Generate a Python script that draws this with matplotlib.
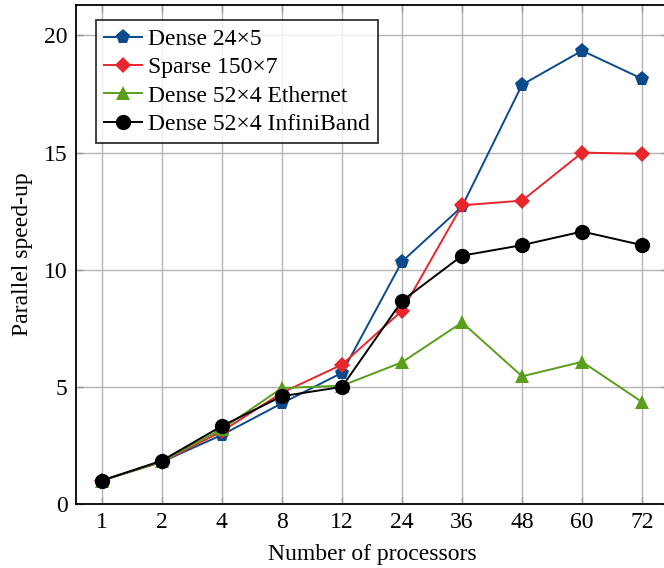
import matplotlib
matplotlib.use("Agg")
import matplotlib.pyplot as plt

processors = ["1", "2", "4", "8", "12", "24", "36", "48", "60", "72"]

dense_24x5 = [1.0, 1.8, 2.95, 4.3, 5.6, 10.35, 12.7, 17.9, 19.35, 18.15]
sparse_150x7 = [1.0, 1.8, 3.1, 4.75, 5.95, 8.25, 12.75, 12.95, 15.0, 14.95]
dense_52x4_eth = [1.0, 1.82, 3.2, 4.95, 5.05, 6.05, 7.75, 5.45, 6.07, 4.35]
dense_52x4_ib = [1.0, 1.85, 3.33, 4.6, 5.0, 8.67, 10.6, 11.05, 11.63, 11.05]

labels = ["Dense 24×5", "Sparse 150×7", "Dense 52×4 Ethernet", "Dense 52×4 InfiniBand"]

plt.rcParams["font.family"] = ["Liberation Serif", "DejaVu Serif"]

FS = 17
W, H = 664, 568
fig = plt.figure(figsize=(W / 100, H / 100), dpi=100)
left, right, top, bottom = 76, 668, 5, 504
ax = fig.add_axes([left / W, 1 - bottom / H, (right - left) / W, (bottom - top) / H])

x = list(range(len(processors)))
styles = [
    (dense_24x5, "#0b4a8b", "p", 11),
    (sparse_150x7, "#e8262b", "D", 8),
    (dense_52x4_eth, "#5a9e1c", "^", 10),
    (dense_52x4_ib, "#000000", "o", 11),
]
for (vals, color, marker, ms), lab in zip(styles, labels):
    ax.plot(x, vals, color=color, marker=marker, markersize=ms, linewidth=1.4,
            markeredgewidth=0, label=lab, zorder=3)

ax.set_xlim(-0.43, 9.43)
ax.set_ylim(0, 21.3)
ax.set_xticks(x)
ax.set_xticklabels(processors)
ax.set_yticks([0, 5, 10, 15, 20])
ax.grid(True, color="#b4b4b4", linewidth=1.0)
ax.set_axisbelow(True)
ax.tick_params(axis="both", direction="in", length=5, width=1.0, color="#999999",
               labelsize=FS, top=True, right=True, pad=6)
for s in ax.spines.values():
    s.set_linewidth(1.3)
    s.set_color("black")

ax.set_xlabel("Number of processors", fontsize=FS, labelpad=8)
ax.set_ylabel("Parallel speed-up", fontsize=FS, labelpad=8)

leg = ax.legend(loc="upper left", bbox_to_anchor=((96 - left) / (right - left), 1 - (20 - top) / (bottom - top)),
                fontsize=FS, frameon=True, fancybox=False, edgecolor="black",
                handlelength=1.6, handletextpad=0.25, borderpad=0.35, labelspacing=0.29,
                borderaxespad=0)
leg.get_frame().set_linewidth(1.3)

fig.savefig("out.png", dpi=100)
